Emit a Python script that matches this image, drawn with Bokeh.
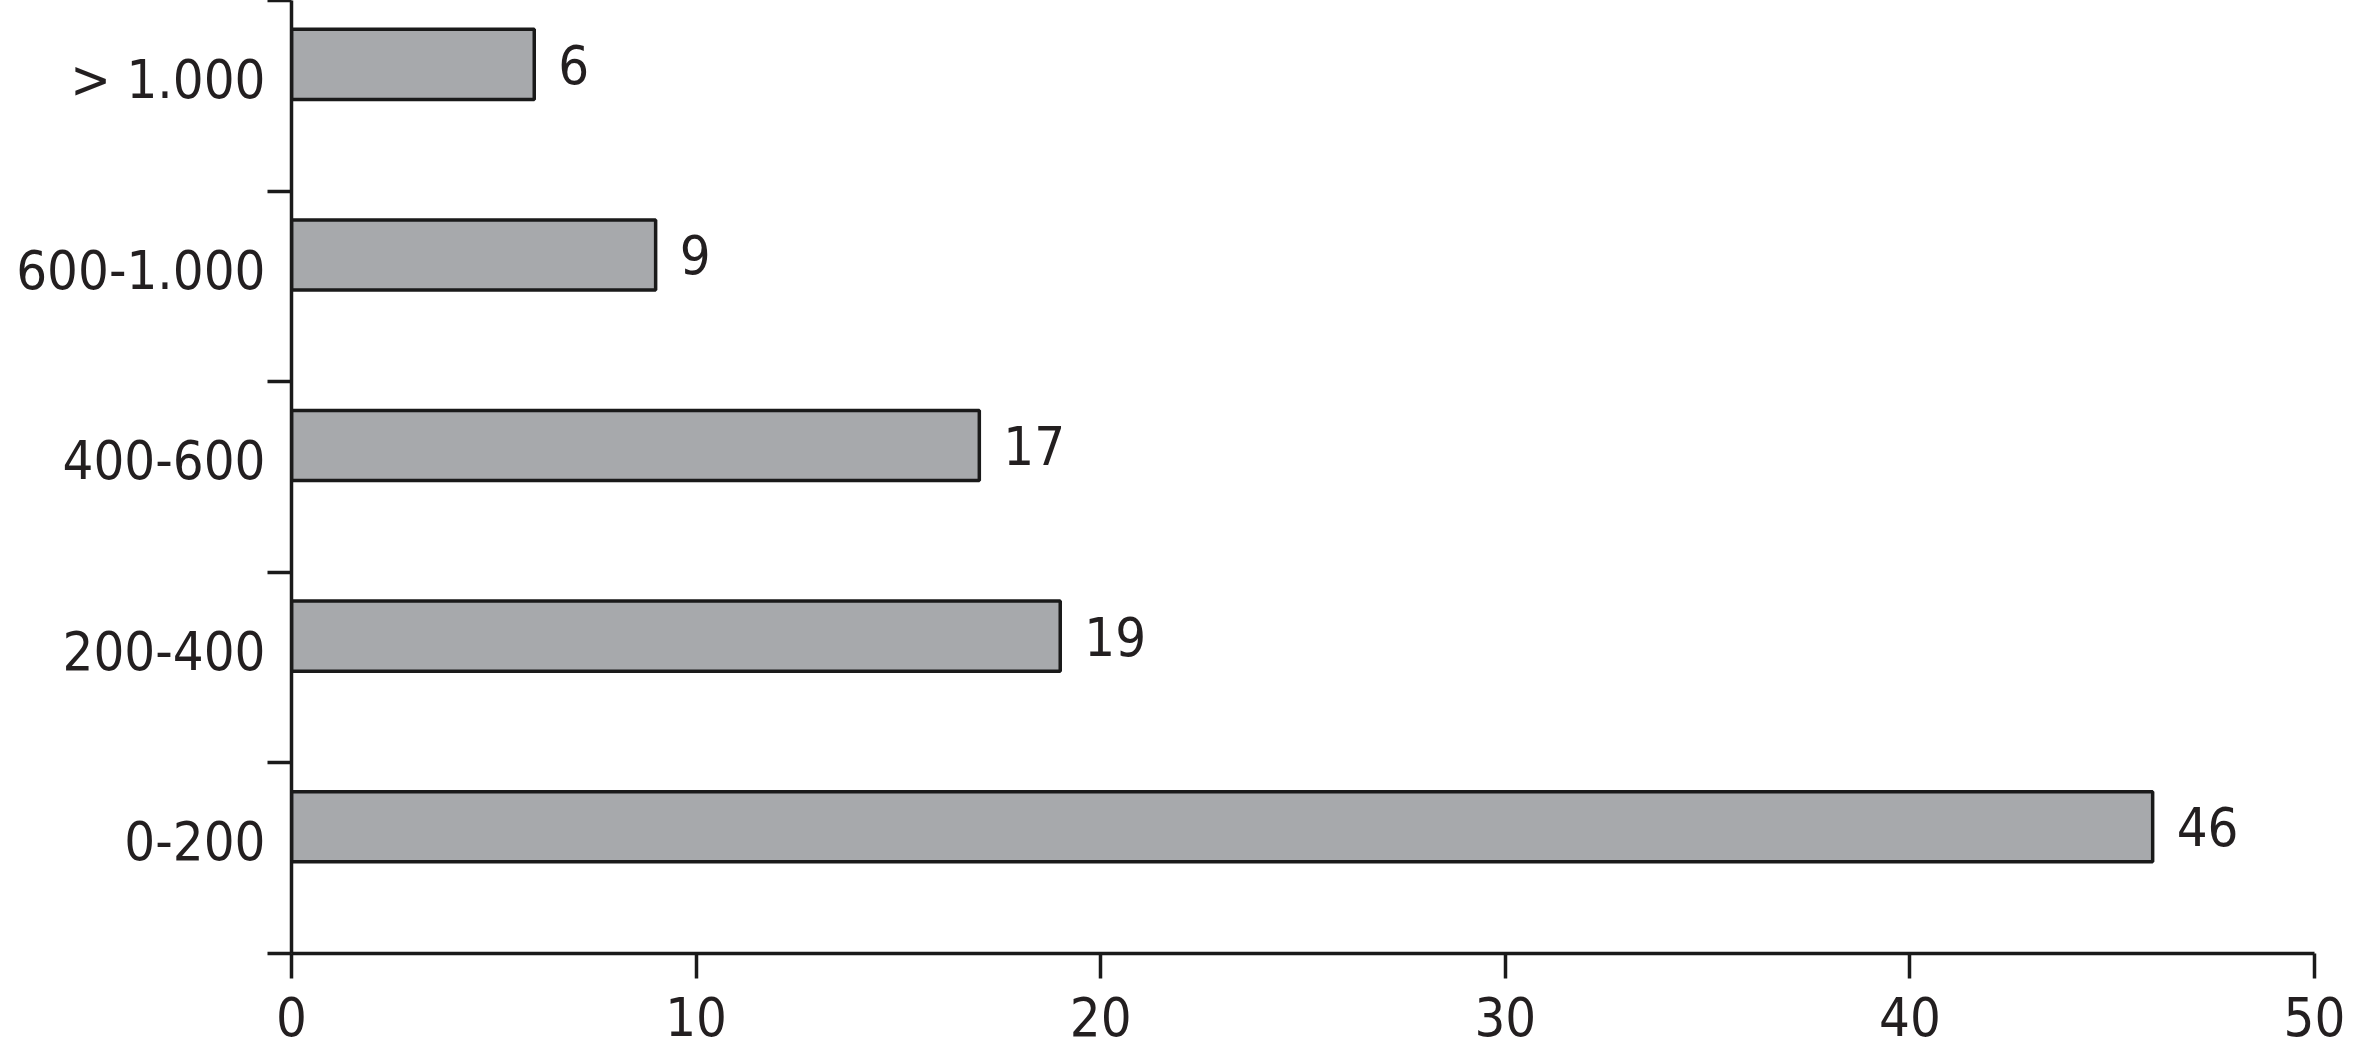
from bokeh.plotting import figure
from bokeh.models import Range1d, FixedTicker, ColumnDataSource
from bokeh.core.properties import value
from bokeh.embed import file_html
from bokeh.resources import INLINE

categories = ["0-200", "200-400", "400-600", "600-1.000", "> 1.000"]
counts = [46, 19, 17, 9, 6]
x_ticks = [0, 10, 20, 30, 40, 50]

FONT = "DejaVu Sans Condensed"
FS = "54px"
TXT = "#231f20"
LABEL_OFF = 0.085
BAR_OFF = 0.165

n = len(categories)
pos = list(range(n))
bar_y = [i + (BAR_OFF - LABEL_OFF) for i in pos]

p = figure(width=2346, height=1056, output_backend="svg", toolbar_location=None,
           x_range=Range1d(0, 50),
           y_range=Range1d(-0.5 - LABEL_OFF, n - 0.5 - LABEL_OFF),
           min_border_left=291, min_border_right=32, min_border_top=0, min_border_bottom=103)
p.outline_line_color = None
p.grid.visible = False
p.background_fill_color = "white"

src = ColumnDataSource(dict(y=bar_y, v=counts, t=[str(c) for c in counts]))
p.hbar(y="y", left=0, right="v", height=0.368, source=src,
       fill_color="#a7a9ac", line_color="#1a1a1a", line_width=3.5)
p.text(x="v", y="y", text="t", source=src, x_offset=24, text_baseline="middle",
       text_align="left", text_font=value(FONT), text_font_size=FS, text_color=TXT)

xa = p.xaxis[0]
xa.ticker = FixedTicker(ticks=x_ticks, minor_ticks=[])
xa.axis_line_width = 3.5
xa.axis_line_color = "#1a1a1a"
xa.major_tick_line_width = 3.5
xa.major_tick_line_color = "#1a1a1a"
xa.major_tick_out = 25
xa.major_tick_in = 0
xa.minor_tick_line_color = None
xa.major_label_standoff = 18
xa.major_label_text_font = FONT
xa.major_label_text_font_size = FS
xa.major_label_text_color = TXT

ya = p.yaxis[0]
ya.ticker = FixedTicker(ticks=pos, minor_ticks=[k - 0.5 - LABEL_OFF for k in range(n + 1)])
ya.major_label_overrides = {i: c for i, c in zip(pos, categories)}
ya.axis_line_width = 3.5
ya.axis_line_color = "#1a1a1a"
ya.major_tick_line_color = None
ya.major_tick_out = 0
ya.major_tick_in = 0
ya.minor_tick_line_width = 3.5
ya.minor_tick_line_color = "#1a1a1a"
ya.minor_tick_out = 24
ya.minor_tick_in = 0
ya.major_label_standoff = 2
ya.major_label_text_font = FONT
ya.major_label_text_font_size = FS
ya.major_label_text_color = TXT

open("out.html", "w").write(file_html(p, INLINE))
